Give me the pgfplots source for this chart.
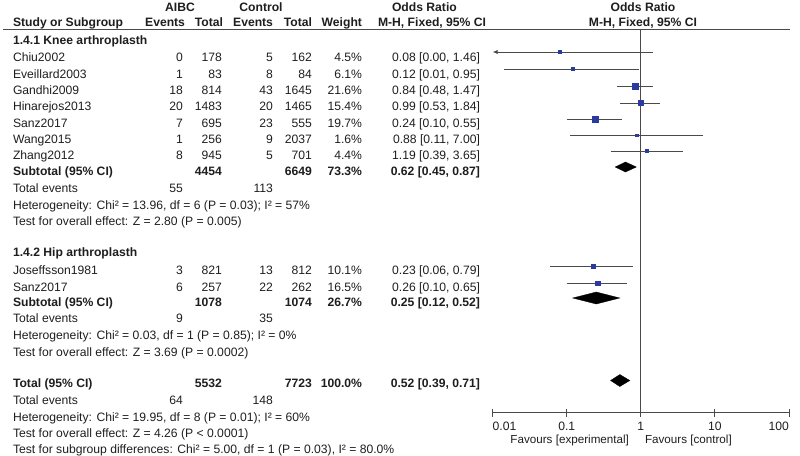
\documentclass[border=0pt]{standalone}
\usepackage{fontspec}
\setmainfont{Liberation Sans}
\usepackage{pgfplots}
\pgfplotsset{compat=1.18}
\usetikzlibrary{arrows.meta}
\definecolor{txt}{HTML}{1E1E1E}
\definecolor{ln}{HTML}{4A4A4A}
\definecolor{sq}{HTML}{2B3A9E}
\newcommand{\fs}{\fontsize{12.2}{14}\selectfont}
\newcommand{\Lt}[3]{\node[anchor=base west] at (#1,-#2) {#3};}
\newcommand{\Rt}[3]{\node[anchor=base east] at (#1,-#2) {#3};}
\newcommand{\Ct}[3]{\node[anchor=base] at (#1,-#2) {#3};}
% study row: baseline, name, e1, t1, e2, t2, weight, OR text
\newcommand{\Row}[8]{%
  \Lt{13}{#1}{#2}\Rt{183}{#1}{#3}\Rt{222}{#1}{#4}\Rt{273}{#1}{#5}%
  \Rt{312}{#1}{#6}\Rt{362}{#1}{#7}\Rt{480}{#1}{#8}}
\begin{document}
\begin{tikzpicture}[x=1bp,y=1bp,every node/.style={inner sep=0pt,outer sep=0pt,font=\fs,text=txt}]
\useasboundingbox (0,0) rectangle (800,-456);
\begin{axis}[
  at={(492.7bp,-412.5bp)}, anchor=south west, scale only axis,
  width=296.3bp, height=383bp,
  xmode=log, xmin=0.01, xmax=100, ymin=29.5, ymax=412.5, y dir=reverse,
  axis x line*=bottom, axis y line=none, clip=false,
  xtick={0.01,0.1,1,10,100},
  xticklabels={\makebox[0pt][l]{0.01},0.1,1,10,\makebox[0pt][r]{100}},
  xminorticks=false, xtick align=center, major tick length=8bp,
  every tick/.style={ln,line width=0.9bp},
  axis line style={ln,line width=0.9bp},
  xticklabel style={font=\fs,text=txt,anchor=base,yshift=-13.5bp},
  ci/.style={ln,line width=0.9bp},
  box/.style={only marks,mark=square*,mark options={fill=sq,draw=sq}},
  dia/.style={fill=black,draw=black,line width=0.3bp},
]
% line of no effect
\addplot[ln,line width=0.9bp] coordinates {(1,29.5) (1,412.5)};
% confidence intervals
\addplot[ci,{Latex[length=5bp,width=4.5bp]}-] coordinates {(0.01,52) (1.46,52)};
\addplot[ci] coordinates {(0.0142,69) (0.95,69)};
\addplot[ci] coordinates {(0.48,86) (1.47,86)};
\addplot[ci] coordinates {(0.53,103) (1.84,103)};
\addplot[ci] coordinates {(0.10,119) (0.55,119)};
\addplot[ci] coordinates {(0.11,135) (7.00,135)};
\addplot[ci] coordinates {(0.39,151) (3.65,151)};
\addplot[ci] coordinates {(0.06,266) (0.79,266)};
\addplot[ci] coordinates {(0.10,283) (0.65,283)};
% point estimates (size ~ weight)
\addplot[box,mark size=1.6] coordinates {(0.08,52)};
\addplot[box,mark size=1.6] coordinates {(0.12,69)};
\addplot[box,mark size=3.1] coordinates {(0.84,86)};
\addplot[box,mark size=2.7] coordinates {(0.99,103)};
\addplot[box,mark size=3.0] coordinates {(0.24,119)};
\addplot[box,mark size=1.1] coordinates {(0.88,135)};
\addplot[box,mark size=1.6] coordinates {(1.19,151)};
\addplot[box,mark size=2.1] coordinates {(0.23,266)};
\addplot[box,mark size=2.3] coordinates {(0.26,283)};
% pooled diamonds
\addplot[dia] coordinates {(0.45,167) (0.62,162) (0.87,167) (0.62,172)} -- cycle;
\addplot[dia] coordinates {(0.12,298) (0.25,292) (0.52,298) (0.25,304)} -- cycle;
\addplot[dia] coordinates {(0.39,380.5) (0.52,374.5) (0.71,380.5) (0.52,386.5)} -- cycle;
\end{axis}
% header
\draw[ln,line width=0.9bp] (3,-29.5) -- (790,-29.5);
\Ct{180}{11.5}{\bfseries AIBC}
\Ct{261}{11.5}{\bfseries Control}
\Lt{392}{11.5}{\bfseries Odds Ratio}
\Ct{643}{11.5}{\bfseries Odds Ratio}
\Lt{13}{27}{\bfseries Study or Subgroup}
\Rt{185}{27}{\bfseries Events}
\Rt{223}{27}{\bfseries Total}
\Rt{273}{27}{\bfseries Events}
\Rt{312}{27}{\bfseries Total}
\Rt{362}{27}{\bfseries Weight}
\Lt{378}{27}{\bfseries M-H, Fixed, 95\% CI}
\Ct{643}{27}{\bfseries M-H, Fixed, 95\% CI}
% knee
\Lt{13}{44.5}{\bfseries 1.4.1 Knee arthroplasth}
\Row{62}{Chiu2002}{0}{178}{5}{162}{4.5\%}{0.08 [0.00, 1.46]}
\Row{78.5}{Eveillard2003}{1}{83}{8}{84}{6.1\%}{0.12 [0.01, 0.95]}
\Row{94.5}{Gandhi2009}{18}{814}{43}{1645}{21.6\%}{0.84 [0.48, 1.47]}
\Row{111}{Hinarejos2013}{20}{1483}{20}{1465}{15.4\%}{0.99 [0.53, 1.84]}
\Row{127.5}{Sanz2017}{7}{695}{23}{555}{19.7\%}{0.24 [0.10, 0.55]}
\Row{143.5}{Wang2015}{1}{256}{9}{2037}{1.6\%}{0.88 [0.11, 7.00]}
\Row{159.5}{Zhang2012}{8}{945}{5}{701}{4.4\%}{1.19 [0.39, 3.65]}
\Row{175.5}{\bfseries Subtotal (95\% CI)}{}{\bfseries 4454}{}{\bfseries 6649}{\bfseries 73.3\%}{\bfseries 0.62 [0.45, 0.87]}
\Lt{13}{192.5}{Total events}\Rt{183}{192.5}{55}\Rt{273}{192.5}{113}
\Lt{13}{209.5}{Heterogeneity: Chi² = 13.96, df = 6 (P = 0.03); I² = 57\%}
\Lt{13}{226}{Test for overall effect: Z = 2.80 (P = 0.005)}
% hip
\Lt{13}{256.5}{\bfseries 1.4.2 Hip arthroplasth}
\Row{274.5}{Joseffsson1981}{3}{821}{13}{812}{10.1\%}{0.23 [0.06, 0.79]}
\Row{291.5}{Sanz2017}{6}{257}{22}{262}{16.5\%}{0.26 [0.10, 0.65]}
\Row{306.5}{\bfseries Subtotal (95\% CI)}{}{\bfseries 1078}{}{\bfseries 1074}{\bfseries 26.7\%}{\bfseries 0.25 [0.12, 0.52]}
\Lt{13}{322.5}{Total events}\Rt{183}{322.5}{9}\Rt{273}{322.5}{35}
\Lt{13}{339.5}{Heterogeneity: Chi² = 0.03, df = 1 (P = 0.85); I² = 0\%}
\Lt{13}{356.5}{Test for overall effect: Z = 3.69 (P = 0.0002)}
% total
\Row{387.5}{\bfseries Total (95\% CI)}{}{\bfseries 5532}{}{\bfseries 7723}{\bfseries 100.0\%}{\bfseries 0.52 [0.39, 0.71]}
\Lt{13}{404.5}{Total events}\Rt{183}{404.5}{64}\Rt{273}{404.5}{148}
\Lt{13}{421.5}{Heterogeneity: Chi² = 19.95, df = 8 (P = 0.01); I² = 60\%}
\Lt{13}{437.5}{Test for overall effect: Z = 4.26 (P < 0.0001)}
\Lt{13}{453}{Test for subgroup differences: Chi² = 5.00, df = 1 (P = 0.03), I² = 80.0\%}
% favours
\node[anchor=base east,font=\fontsize{11.7}{13}\selectfont] at (629,-443) {Favours [experimental]};
\node[anchor=base west,font=\fontsize{11.7}{13}\selectfont] at (645,-443) {Favours [control]};
\end{tikzpicture}
\end{document}
